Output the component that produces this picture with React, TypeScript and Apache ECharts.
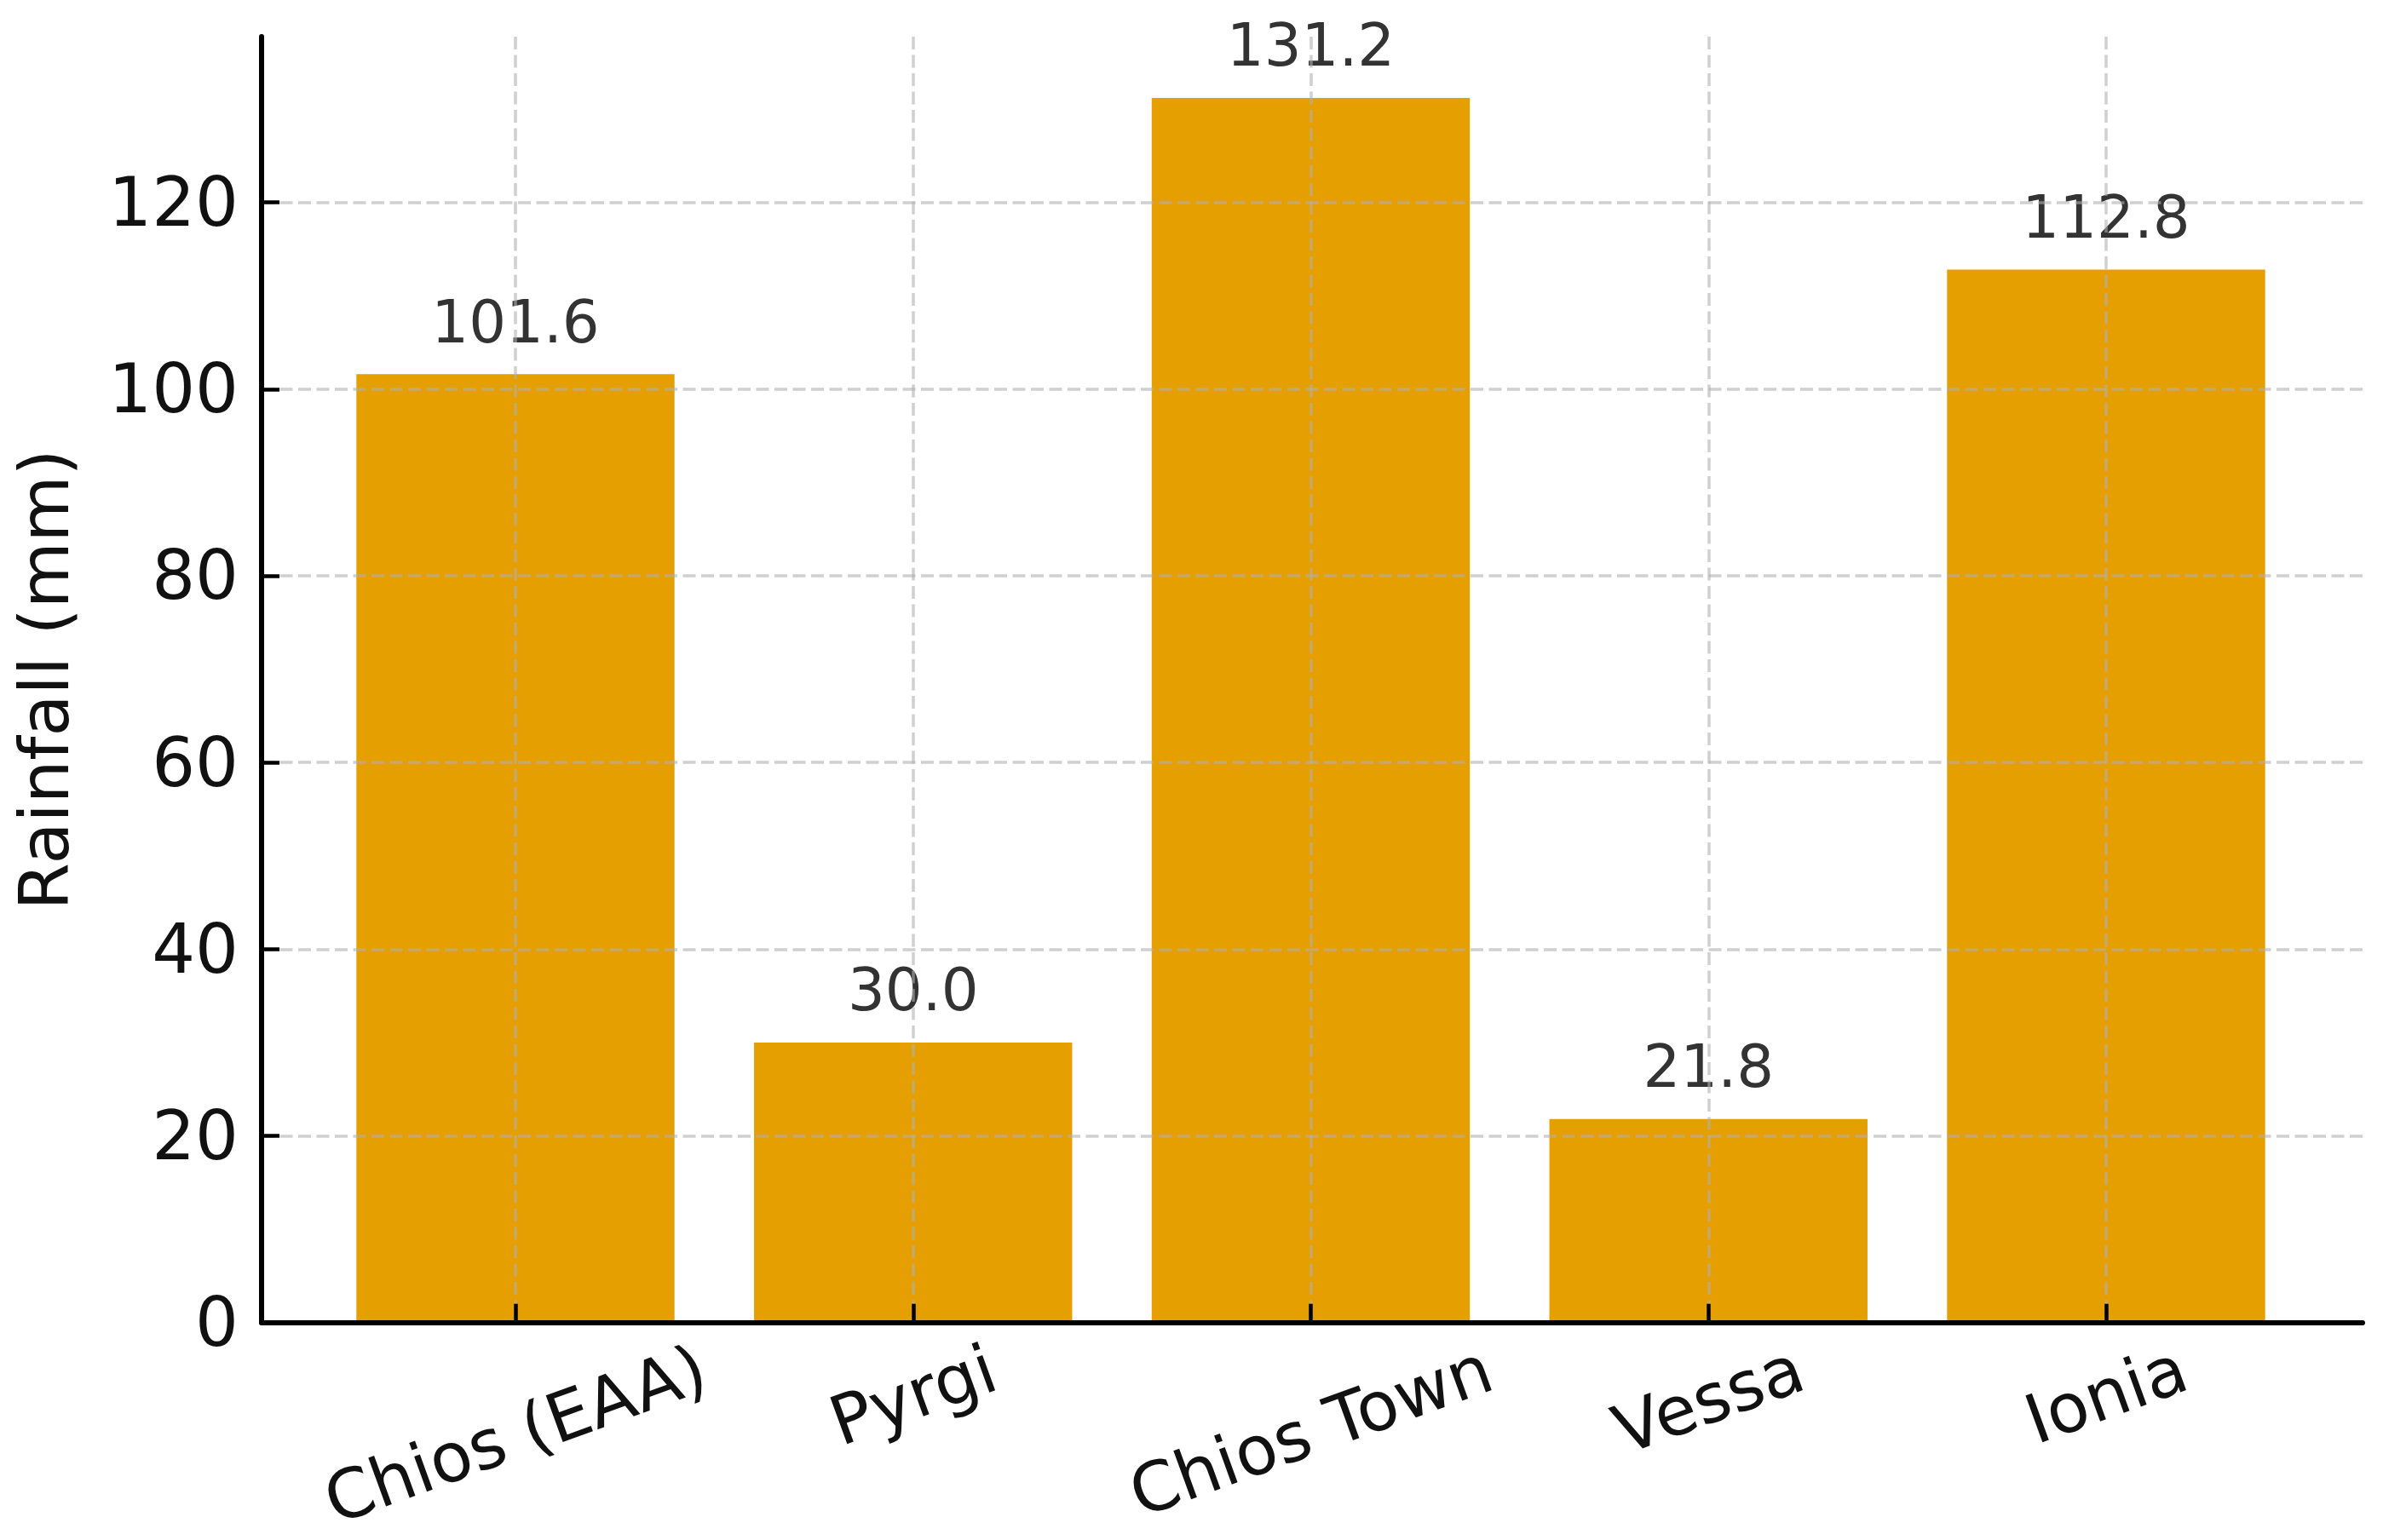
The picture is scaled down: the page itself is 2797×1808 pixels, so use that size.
import React, { useEffect, useRef } from 'react';
import * as echarts from 'echarts';

const categories = ['Chios (EAA)', 'Pyrgi', 'Chios Town', 'Vessa', 'Ionia'];
const rainfall = [101.6, 30.0, 131.2, 21.8, 112.8];
const yTicks = [0, 20, 40, 60, 80, 100, 120];
const yMax = 137.76;
const yTitle = 'Rainfall (mm)';

const FONT = "'DejaVu Sans', 'Liberation Sans', sans-serif";

export default function App() {
  const ref = useRef<HTMLDivElement>(null);
  useEffect(() => {
    const el = ref.current!;
    const chart = echarts.init(el, null, { renderer: 'svg' });
    const plotTop = 43;
    const plotBottom = 255.3;
    const axisLeft = 307;
    const axisRight = 2797 - 2773;
    const catLeft = 605;
    const catWidth = 1867;
    const gridLine = {
      show: true,
      lineStyle: { color: 'rgba(176,176,176,0.6)', width: 3.5, type: [15, 6.5] },
    };
    const spine = { color: '#000', width: 6 };
    chart.setOption({
      animation: false,
      backgroundColor: '#fff',
      grid: [
        { left: catLeft, width: catWidth, top: plotTop, bottom: plotBottom },
        { left: axisLeft, right: axisRight, top: plotTop, bottom: plotBottom },
      ],
      xAxis: [
        {
          type: 'category',
          gridIndex: 0,
          data: categories,
          boundaryGap: false,
          z: 10,
          axisLine: { show: false },
          axisTick: { show: true, inside: true, length: 22, interval: 0, lineStyle: { color: '#000', width: 4.5 } },
          axisLabel: { show: false },
          splitLine: { ...gridLine, interval: 0 },
        },
        {
          type: 'value',
          gridIndex: 1,
          min: 0,
          max: 1,
          z: 10,
          axisLine: { show: true, lineStyle: spine },
          axisTick: { show: false },
          axisLabel: { show: false },
          splitLine: { show: false },
        },
      ],
      yAxis: [
        { type: 'value', gridIndex: 0, min: 0, max: yMax, show: false, splitLine: { show: false } },
        {
          type: 'value',
          gridIndex: 1,
          min: 0,
          max: yMax,
          interval: 20,
          z: 10,
          name: yTitle,
          nameLocation: 'middle',
          nameGap: 215,
          nameTextStyle: { fontSize: 80, fontFamily: FONT, color: '#111' },
          axisLine: { show: true, lineStyle: spine },
          axisTick: { show: true, inside: true, length: 21, customValues: yTicks, lineStyle: { color: '#000', width: 4.5 } },
          axisLabel: { customValues: yTicks, fontSize: 80, margin: 27, color: '#111', fontFamily: FONT },
          splitLine: gridLine,
        },
      ],
      series: [
        {
          type: 'bar',
          xAxisIndex: 0,
          yAxisIndex: 0,
          data: rainfall,
          barWidth: '80%',
          clip: false,
          itemStyle: { color: '#E69F00' },
          label: {
            show: true,
            position: 'top',
            distance: 27,
            fontSize: 69,
            fontFamily: FONT,
            color: '#333',
            formatter: (p: any) => Number(p.value).toFixed(1),
          },
        },
      ],
    });

    const ctx = document.createElement('canvas').getContext('2d')!;
    const labelSize = 80;
    ctx.font = `${labelSize}px ${FONT}`;
    const theta = (20 * Math.PI) / 180;
    const graphics = categories.map((c, i) => {
      const pt = chart.convertToPixel({ xAxisIndex: 0, yAxisIndex: 0 }, [i, 0]) as number[];
      const L = ctx.measureText(c).width;
      return {
        type: 'text',
        x: pt[0],
        y: pt[1] + 51 + (L * Math.sin(theta)) / 2,
        rotation: theta,
        style: {
          text: c,
          fontSize: labelSize,
          fontFamily: FONT,
          fill: '#111',
          align: 'center',
          verticalAlign: 'middle',
        },
      };
    });
    chart.setOption({ graphic: graphics });

    return () => chart.dispose();
  }, []);
  return (
    <div
      ref={ref}
      style={{ position: 'absolute', left: 0, top: 0, width: 2797, height: 1808 }}
    />
  );
}
